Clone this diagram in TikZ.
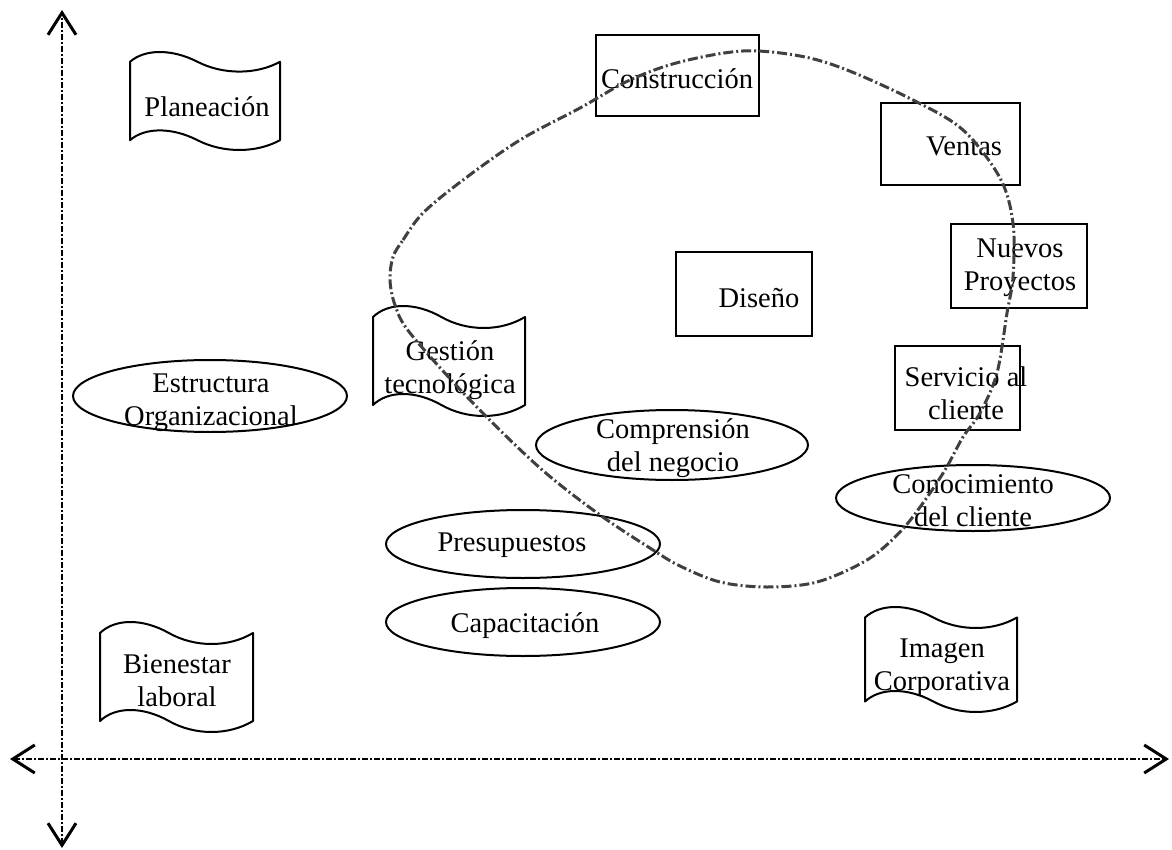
\documentclass[tikz,border=0pt]{standalone}
\usepackage{fontspec}
\setmainfont{Liberation Serif}
\usetikzlibrary{shapes.geometric,arrows.meta}
\tikzset{
  lbl/.style={font=\fontsize{28.5}{33}\selectfont, inner sep=0pt, align=center},
  rectbox/.style={draw, line width=2pt, inner sep=0pt, rectangle},
  ellbox/.style={draw, ellipse, line width=2pt, inner sep=0pt},
  tapeline/.style={draw, line width=2pt, line join=round},
  axisline/.style={line width=2pt, dash pattern=on 6pt off 2pt on 2pt off 2pt,
    {Straight Barb[length=22pt,width=28pt,line width=3pt]}-{Straight Barb[length=22pt,width=28pt,line width=3pt]}},
  cyclecurve/.style={draw=black!75, line width=3pt, dash pattern=on 10pt off 3pt on 2pt off 3pt, line cap=butt},
}
% tape (punched tape) outline: #1 x0, #2 y0, #3 x1, #4 y1 (y downwards)
\newcommand{\tapeoutline}[4]{%
  \pgfmathsetmacro\ta{0.1*(#4-#2)}%
  \pgfmathsetmacro\tb{1.333*\ta}%
  \pgfmathsetmacro\tyt{#2+\ta}%
  \pgfmathsetmacro\tyb{#4-\ta}%
  \pgfmathsetmacro\tyu{\tyt-\tb}%
  \pgfmathsetmacro\tyd{\tyt+\tb}%
  \pgfmathsetmacro\byu{\tyb-\tb}%
  \pgfmathsetmacro\byd{\tyb+\tb}%
  \pgfmathsetmacro\txa{#1+(#3-#1)*0.10}%
  \pgfmathsetmacro\txb{#1+(#3-#1)*0.28}%
  \pgfmathsetmacro\txm{#1+(#3-#1)*0.45}%
  \pgfmathsetmacro\txc{#1+(#3-#1)*0.62}%
  \pgfmathsetmacro\txd{#1+(#3-#1)*0.84}%
  \draw[tapeline] (#1,\tyt) .. controls (\txa,\tyu) and (\txb,\tyu) .. (\txm,\tyt)
     .. controls (\txc,\tyd) and (\txd,\tyd) .. (#3,\tyt) -- (#3,\tyb)
     .. controls (\txd,\byd) and (\txc,\byd) .. (\txm,\tyb)
     .. controls (\txb,\byu) and (\txa,\byu) .. (#1,\tyb) -- cycle;%
}
\begin{document}
\begin{tikzpicture}[x=1pt,y=-1pt]
\fill[white] (0,0) rectangle (1172,850);
\useasboundingbox (0,0) rectangle (1172,850);

% axes
\coordinate (xl) at (10,759);
\coordinate (xr) at (1169,759);
\coordinate (yt) at (62,10);
\coordinate (yb) at (62,848);
\draw[axisline] (xl) -- (xr);
\draw[axisline] (yb) -- (yt);

% rectangles
\node[rectbox, minimum width=163pt, minimum height=81pt] (conbox) at (677.5,75.5) {};
\node[lbl] (con) at (677,79) {Construcción};
\node[rectbox, minimum width=139pt, minimum height=82pt] (venbox) at (950.5,144) {};
\node[lbl] (ven) at (964,146) {Ventas};
\node[rectbox, minimum width=136pt, minimum height=84pt] (nuebox) at (1019,266) {};
\node[lbl] (nue) at (1020,268) {Nuevos\\Proyectos};
\node[rectbox, minimum width=136pt, minimum height=84pt] (disbox) at (744,294) {};
\node[lbl] (dis) at (759,298) {Diseño};
\node[rectbox, minimum width=125pt, minimum height=84pt] (serbox) at (957.5,388) {};
\node[lbl] (ser) at (966,393) {Servicio al\\cliente};

% ellipses
\node[ellbox, minimum width=274pt, minimum height=72pt] (estbox) at (210,396) {};
\node[lbl] (est) at (211,403) {Estructura\\Organizacional};
\node[ellbox, minimum width=272pt, minimum height=70pt] (combox) at (672,445) {};
\node[lbl] (com) at (673,448) {Comprensión\\del negocio};
\node[ellbox, minimum width=274pt, minimum height=66pt] (conocbox) at (973,498) {};
\node[lbl] (conoc) at (973,501) {Conocimiento\\del cliente};
\node[ellbox, minimum width=274pt, minimum height=68pt] (prebox) at (523,544) {};
\node[lbl] (pre) at (512,545) {Presupuestos};
\node[ellbox, minimum width=274pt, minimum height=68pt] (capbox) at (523,622) {};
\node[lbl] (cap) at (525,626) {Capacitación};

% tapes
\tapeoutline{130}{52}{280}{150}
\node[lbl] (pla) at (207,107) {Planeación};
\tapeoutline{373}{306}{525}{416}
\node[lbl] (ges) at (450,370) {Gestión\\tecnológica};
\tapeoutline{100}{622}{253}{732}
\node[lbl] (bie) at (177,681) {Bienestar\\laboral};
\tapeoutline{865}{607}{1017}{712}
\node[lbl] (ima) at (942,668) {Imagen\\Corporativa};

% closed dashed curve
\draw[cyclecurve] plot[smooth cycle, tension=0.55] coordinates {
 (393,257) (403,240) (423,213) (463,180) (520,140) (580,108) (630,80) (680,62)
 (743,51) (800,56) (847,70) (913,100) (963,130) (1000,178) (1013,223) (1013,277)
 (1007,313) (997,373) (980,413) (963,437) (945,470) (923,503) (900,532) (867,560)
 (817,582) (767,587) (720,582) (680,566) (653,550) (600,515) (540,468) (470,400)
 (410,333) (395,305) (390,280)};
\end{tikzpicture}
\end{document}
